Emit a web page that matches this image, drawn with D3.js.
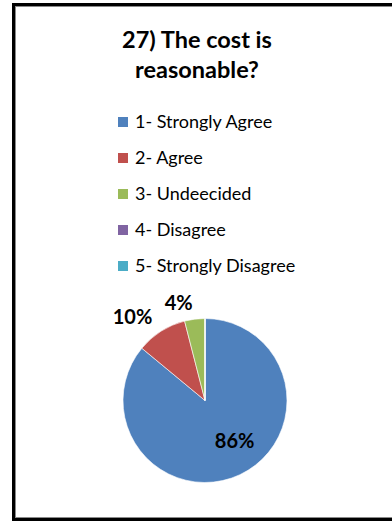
<!DOCTYPE html>
<html>
<head>
<meta charset="utf-8">
<script src="https://cdn.jsdelivr.net/npm/d3@7"></script>
<style>
  html, body { margin: 0; padding: 0; background: #fff; }
  svg { display: block; }
</style>
</head>
<body>
<svg id="chart" width="392" height="523"></svg>
<script>
// Survey question 27 — response shares
const categories = ["1- Strongly Agree", "2- Agree", "3- Undeecided", "4- Disagree", "5- Strongly Disagree"];
const values = [86, 10, 4, 0, 0];
const colors = ["#4F81BD", "#C0504D", "#9BBB59", "#8064A2", "#4BACC6"];
const titleLines = ["27) The cost is", "reasonable?"];

const svg = d3.select("#chart");
const font = "Lato, 'Open Sans', sans-serif";

// frame: dark outer rule with a grey inner rule
svg.append("rect")
  .attr("x", 13.5).attr("y", 4.5).attr("width", 400).attr("height", 515)
  .attr("fill", "#fff").attr("stroke", "#000").attr("stroke-width", 3);
svg.append("rect")
  .attr("x", 15.5).attr("y", 6.5).attr("width", 400).attr("height", 511)
  .attr("fill", "none").attr("stroke", "#8a8a8a").attr("stroke-width", 1);

// title
svg.append("text")
  .attr("x", 197).attr("y", 48)
  .attr("text-anchor", "middle")
  .attr("font-family", font).attr("font-weight", "bold").attr("font-size", 23.5)
  .selectAll("tspan").data(titleLines).join("tspan")
  .attr("x", 197).attr("dy", (d, i) => i === 0 ? 0 : 30)
  .text(d => d);

// legend
const color = d3.scaleOrdinal().domain(categories).range(colors);
const legendY = d3.scalePoint().domain(categories).range([122, 266]);
const legend = svg.append("g");
const item = legend.selectAll("g").data(categories).join("g")
  .attr("transform", d => `translate(118,${legendY(d)})`);
item.append("rect")
  .attr("x", 0).attr("y", -5).attr("width", 10).attr("height", 10)
  .attr("fill", d => color(d));
item.append("text")
  .attr("x", 17).attr("y", 0).attr("dy", "0.35em")
  .attr("font-family", font).attr("font-size", 18).attr("fill", "#000")
  .text(d => d);

// pie
const cx = 205, cy = 400.5, r = 82;
const pie = d3.pie().sort(null).value(d => d)(values);
const arc = d3.arc().innerRadius(0).outerRadius(r);
const outerLabelArc = d3.arc().innerRadius(r * 1.2).outerRadius(r * 1.2);
const innerLabelArc = d3.arc().innerRadius(r * 0.62).outerRadius(r * 0.62);

const g = svg.append("g").attr("transform", `translate(${cx},${cy})`);
g.selectAll("path").data(pie).join("path")
  .attr("d", arc)
  .attr("fill", (d, i) => colors[i])
  .attr("stroke", "#fff").attr("stroke-width", 0.6);

const fmt = v => v + "%";
g.selectAll("text").data(pie.filter(d => d.value > 0)).join("text")
  .each(function(d) {
    const big = (d.endAngle - d.startAngle) > Math.PI;
    const p = big ? innerLabelArc.centroid(d) : outerLabelArc.centroid(d);
    const mid = (d.startAngle + d.endAngle) / 2;
    d3.select(this)
      .attr("x", big ? p[0] + 8 : p[0]).attr("y", big ? p[1] - 6 : p[1])
      .attr("text-anchor", big ? "middle" : (mid > Math.PI ? "end" : "start"));
  })
  .attr("dy", "0.35em")
  .attr("font-family", font).attr("font-weight", "bold").attr("font-size", 20)
  .attr("fill", "#000")
  .text(d => fmt(d.value));
</script>
</body>
</html>
